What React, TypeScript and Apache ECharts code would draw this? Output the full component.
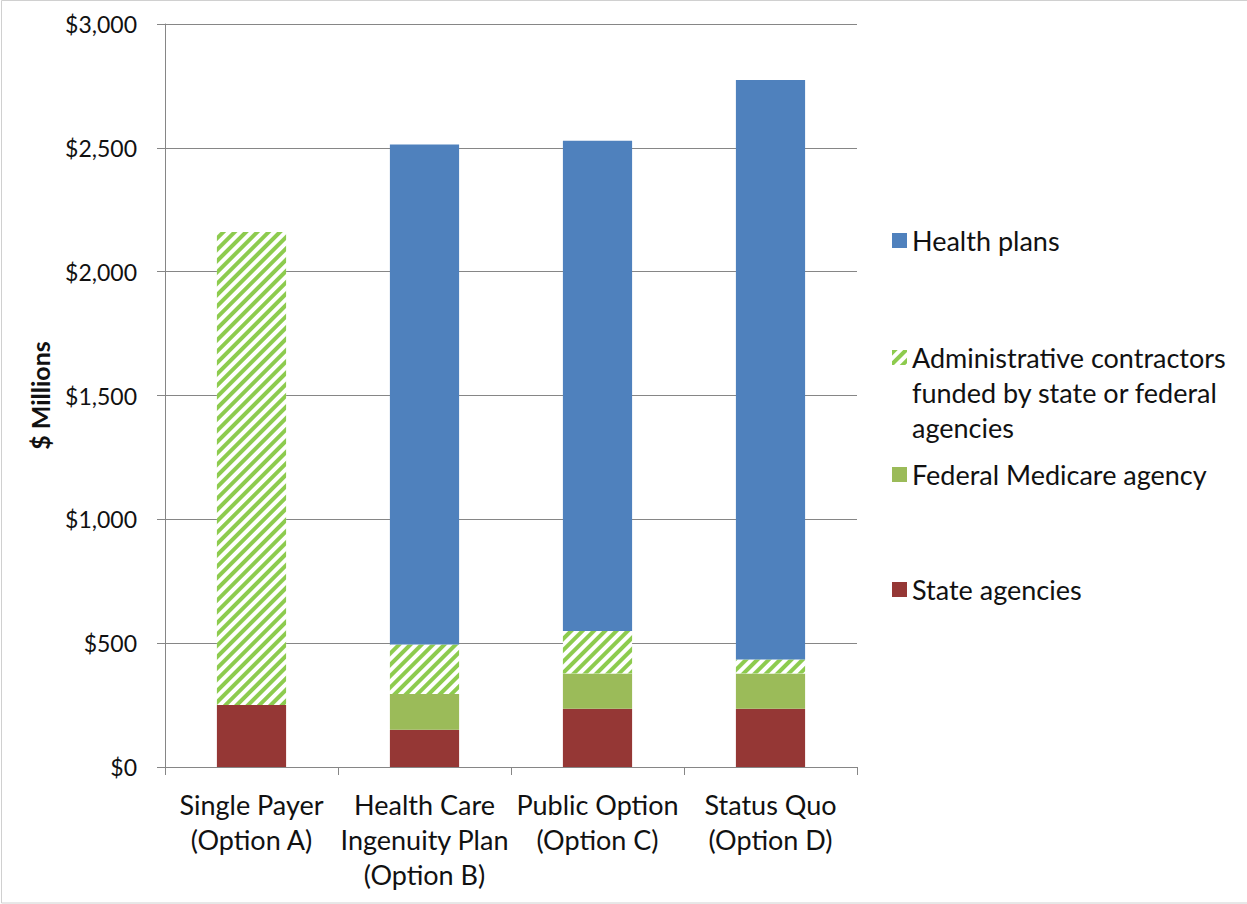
import React, { useEffect, useRef } from "react";
import * as echarts from "echarts";

const categories = [
  "Single Payer\n(Option A)",
  "Health Care\nIngenuity Plan\n(Option B)",
  "Public Option\n(Option C)",
  "Status Quo\n(Option D)",
];
const stateAgencies = [250, 150, 235, 235];
const federalMedicare = [0, 145, 143, 143];
const adminContractors = [1910, 200, 171, 56];
const healthPlans = [0, 2018, 1980, 2340];
const yTicks = { min: 0, max: 3000, interval: 500 };

const FONT = "Lato, 'Open Sans', sans-serif";
const TXT = "#111";
const GRID = "#868686";
const LABEL_SIZE = 27;

export default function App() {
  const ref = useRef<HTMLDivElement>(null);
  useEffect(() => {
    if (!ref.current) return;
    const chart = echarts.init(ref.current, undefined, { renderer: "svg" });
    const adminName = "Administrative contractors funded by state or federal agencies";
    const legendBase = {
      orient: "vertical",
      left: 892,
      padding: 0,
      itemWidth: 15,
      itemHeight: 15,
      icon: "rect",
      selectedMode: false,
      textStyle: { fontFamily: FONT, fontSize: LABEL_SIZE, color: TXT, lineHeight: 35 },
    };
    chart.setOption({
      animation: false,
      backgroundColor: "#fff",
      textStyle: { fontFamily: FONT },
      grid: { left: 165, right: 390, top: 24, bottom: 137, containLabel: false },
      legend: [
        { ...legendBase, top: 223, data: ["Health plans"] },
        {
          ...legendBase,
          top: 270,
          data: [adminName],
          formatter: () => "\n\nAdministrative contractors\nfunded by state or federal\nagencies",
        },
        { ...legendBase, top: 457, data: ["Federal Medicare agency"] },
        { ...legendBase, top: 572, data: ["State agencies"] },
      ],
      xAxis: {
        type: "category",
        data: categories,
        axisLine: { show: true, lineStyle: { color: GRID, width: 1 } },
        axisTick: { show: true, length: 8, lineStyle: { color: GRID } },
        axisLabel: {
          interval: 0,
          margin: 20,
          fontFamily: FONT,
          fontSize: LABEL_SIZE,
          lineHeight: 35,
          color: TXT,
        },
      },
      yAxis: {
        type: "value",
        min: yTicks.min,
        max: yTicks.max,
        interval: yTicks.interval,
        name: "$ Millions",
        nameLocation: "middle",
        nameGap: 113,
        nameTextStyle: { fontFamily: FONT, fontSize: 25, fontWeight: "bold", color: TXT },
        axisLine: { show: true, lineStyle: { color: GRID, width: 1 } },
        axisTick: { show: true, length: 8, lineStyle: { color: GRID } },
        splitLine: { show: true, lineStyle: { color: GRID, width: 1 } },
        axisLabel: {
          margin: 28,
          fontFamily: FONT,
          fontSize: 23,
          color: TXT,
          formatter: (v: number) => "$" + v.toLocaleString("en-US"),
        },
      },
      series: [
        {
          name: "State agencies",
          type: "bar",
          stack: "total",
          barWidth: "40%",
          data: stateAgencies,
          itemStyle: { color: "#953735" },
        },
        {
          name: "Federal Medicare agency",
          type: "bar",
          stack: "total",
          data: federalMedicare,
          itemStyle: { color: "#9BBB59" },
        },
        {
          name: adminName,
          type: "bar",
          stack: "total",
          data: adminContractors,
          itemStyle: {
            color: "#ffffff",
            decal: {
              symbol: "rect",
              symbolSize: 1,
              dashArrayX: [1, 0],
              dashArrayY: [3.5, 3.5],
              rotation: -Math.PI / 4,
              color: "#8DCB4E",
            },
          },
        },
        {
          name: "Health plans",
          type: "bar",
          stack: "total",
          data: healthPlans,
          itemStyle: { color: "#4F81BD" },
        },
      ],
      graphic: [
        {
          type: "rect",
          shape: { x: 1.5, y: 0.5, width: 1260, height: 902.5 },
          style: { fill: "none", stroke: "#D0D0D0", lineWidth: 1 },
          silent: true,
        },
      ],
    });
    return () => chart.dispose();
  }, []);
  return (
    <div
      ref={ref}
      style={{ position: "absolute", left: 0, top: 0, width: 1247, height: 904 }}
    />
  );
}
